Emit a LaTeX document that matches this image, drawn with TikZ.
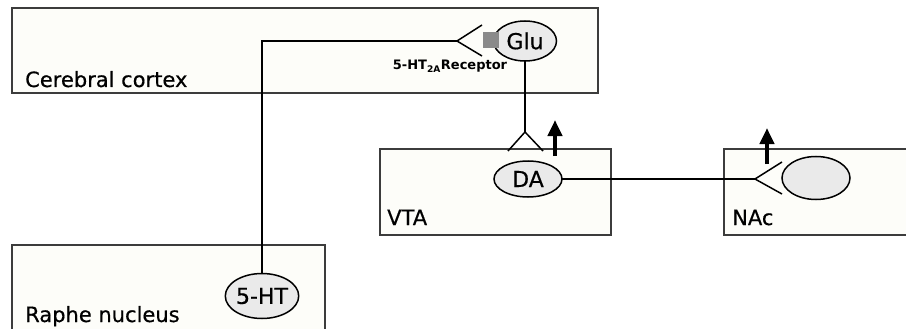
\documentclass[tikz,border=0pt]{standalone}
\usepackage{fontspec}
\setmainfont{DejaVu Sans}
\newfontfamily\labelfont[FakeBold=0.5]{DejaVu Sans}
\usetikzlibrary{arrows.meta,shapes.geometric}
\definecolor{boxfill}{RGB}{253,253,249}
\definecolor{boxline}{RGB}{60,60,60}
\definecolor{cellfill}{RGB}{234,234,234}
\definecolor{recgray}{RGB}{138,138,138}
\tikzset{
  regionbox/.style={draw=boxline, line width=1.2pt, fill=boxfill, rectangle, anchor=north west, inner sep=0pt, outer sep=0pt},
  regionlabel/.style={anchor=base west, inner sep=0pt, font=\labelfont\fontsize{21}{24}\selectfont},
  cell/.style={draw=black, line width=1.5pt, fill=cellfill, ellipse, inner sep=0pt, outer sep=0pt, font=\labelfont\fontsize{22}{24}\selectfont},
  axon/.style={draw=black, line width=1.5pt},
  upflow/.style={draw=black, line width=4.5pt, -{Triangle[length=16pt,width=14pt]}},
  receptor/.style={fill=recgray, rectangle, minimum size=16pt, inner sep=0pt}
}
\begin{document}
\begin{tikzpicture}[x=1pt,y=-1pt]
\clip (0,0) rectangle (906,329);
\fill[white] (0,0) rectangle (906,329);
% regions
\node[regionbox, minimum width=586pt, minimum height=85pt] (cortex) at (12,8) {};
\node[regionbox, minimum width=231pt, minimum height=86pt] (vta) at (380,149) {};
\node[regionbox, minimum width=200pt, minimum height=86pt] (nac) at (724,149) {};
\node[regionbox, minimum width=313pt, minimum height=100pt] (raphe) at (12,245) {};
\node[regionlabel] (lcortex) at (25,87) {Cerebral cortex};
\node[regionlabel] (lvta) at (387,225) {VTA};
\node[regionlabel] (lnac) at (732,225) {NAc};
\node[regionlabel] (lraphe) at (25,322) {Raphe nucleus};
% cells
\node[cell, minimum width=63pt, minimum height=40pt] (glu) at (525,41) {Glu};
\node[receptor] (ht2a) at (491,40) {};
\node[cell, minimum width=68pt, minimum height=36pt] (da) at (528,179) {DA};
\node[cell, minimum width=68pt, minimum height=43pt] (nacc) at (816,178) {};
\node[cell, minimum width=67pt, minimum height=45pt] (fiveht) at (262,296) {5-HT};
\node[font=\bfseries\fontsize{13}{15}\selectfont, inner sep=0pt] (reclabel) at (450,66) {5-HT\textsubscript{2A}Receptor};
% serotonergic axon to cortex
\coordinate (cfork) at (457,41);
\coordinate (cforkA) at (482,25);
\coordinate (cforkB) at (482,56);
\draw[axon] (fiveht.north) -- (fiveht.north |- cfork) -- (cfork);
\draw[axon] (cforkA) -- (cfork) -- (cforkB);
% glutamatergic axon to VTA
\coordinate (vfork) at (525,132);
\coordinate (vforkA) at (508,151);
\coordinate (vforkB) at (543,151);
\draw[axon] (glu.south) -- (vfork);
\draw[axon] (vforkA) -- (vfork) -- (vforkB);
% dopaminergic axon to NAc
\coordinate (nfork) at (755,179);
\coordinate (nforkA) at (782,162);
\coordinate (nforkB) at (782,194);
\draw[axon] (da.east) -- (nfork);
\draw[axon] (nforkA) -- (nfork) -- (nforkB);
% increase arrows
\coordinate (va0) at (555,156);
\coordinate (va1) at (555,120);
\coordinate (na0) at (767,164);
\coordinate (na1) at (767,128);
\draw[upflow] (va0) -- (va1);
\draw[upflow] (na0) -- (na1);
\end{tikzpicture}
\end{document}
